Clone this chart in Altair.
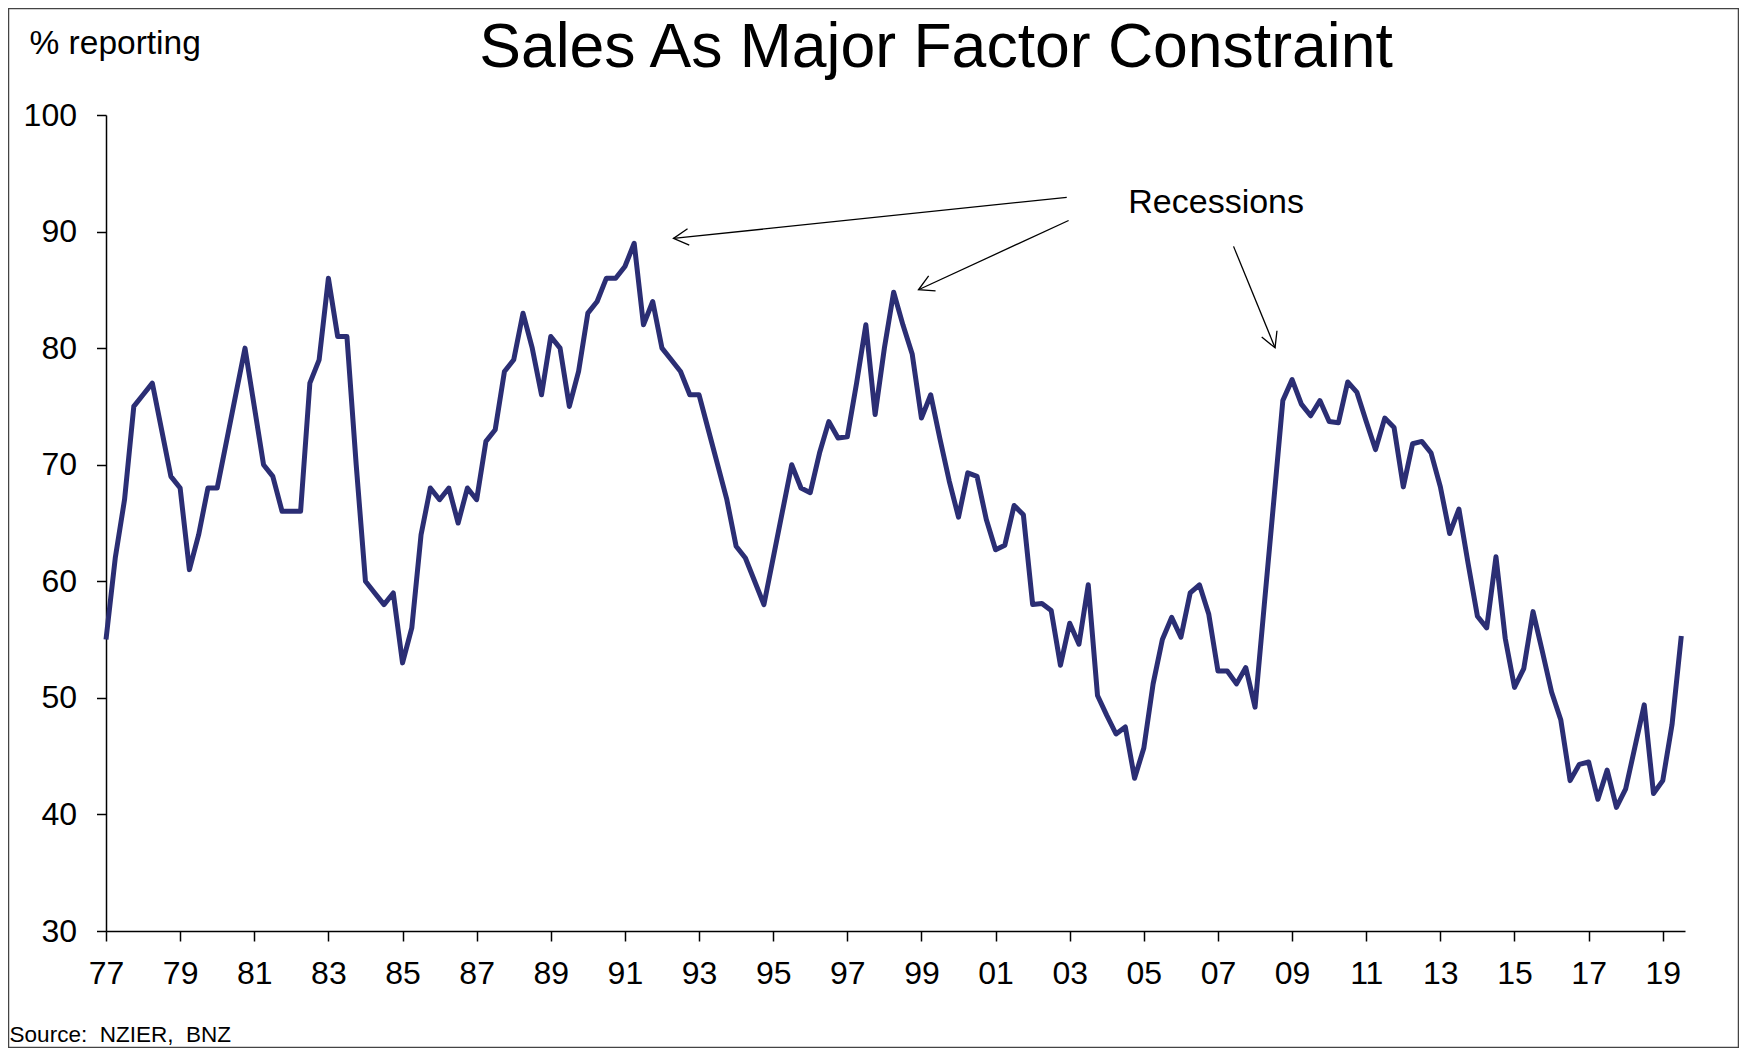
import altair as alt
import pandas as pd

# ---------------- data ----------------
start_year = 1977  # first quarter of the series (1977 Q1), quarterly observations
pct_1977_1986 = [55, 62, 67, 75, 76, 77, 73, 69, 68, 61, 64, 68, 68, 72, 76, 80,
                 75, 70, 69, 66, 66, 66, 77, 79, 86, 81, 81, 70, 60, 59, 58, 59,
                 53, 56, 64, 68, 67, 68, 65, 68]
pct_1987_1996 = [67, 72, 73, 78, 79, 83, 80, 76, 81, 80, 75, 78, 83, 84, 86, 86,
                 87, 89, 82, 84, 80, 79, 78, 76, 76, 73, 70, 67, 63, 62, 60, 58,
                 62, 66, 70, 68, 67.6, 71, 73.7, 72.3]
pct_1997_2006 = [72.4, 77, 82, 74.3, 80, 84.8, 82, 79.5, 74, 76, 72.2, 68.6,
                 65.5, 69.3, 69, 65.3, 62.7, 63.1, 66.5, 65.7, 58, 58.1, 57.5, 52.8,
                 56.4, 54.6, 59.7, 50.2, 48.5, 46.9, 47.5, 43.1, 45.7, 51.2, 55, 56.9,
                 55.2, 59, 59.7, 57.2]
pct_2007_2019 = [52.3, 52.3, 51.2, 52.6, 49.2, 58, 66.7, 75.5, 77.3, 75.2, 74.2, 75.5,
                 73.7, 73.6, 77.1, 76.2, 73.7, 71.3, 74, 73.2, 68.1, 71.8, 72, 71,
                 68.1, 64.1, 66.2, 61.5, 57, 56, 62.1, 55.1, 50.9, 52.5, 57.4, 54,
                 50.5, 48.1, 42.9, 44.3, 44.5, 41.3, 43.8, 40.6, 42.2, 45.8, 49.4, 41.8,
                 42.9, 47.7, 55.3]

year_ticks = list(range(1977, 2020, 2))
value_ticks = [30, 40, 50, 60, 70, 80, 90, 100]

title_text = "Sales As Major Factor Constraint"
y_title = "% reporting"
source_text = "Source:\u00a0 NZIER,\u00a0 BNZ"
annot_text = "Recessions"

# arrows: start (tail) and end (tip) in chart units
arrow_t = [2002.92, 2002.97, 2007.42]
arrow_v = [92.94, 90.95, 88.73]
arrow_t2 = [1992.31, 1998.92, 2008.54]
arrow_v2 = [89.41, 85.01, 80.03]
arrow_angle = [174.0, 155.2, 67.6]
annot_t = [2004.58]
annot_v = [91.57]

# ---------------- tables ----------------
values = pct_1977_1986 + pct_1987_1996 + pct_1997_2006 + pct_2007_2019
df = pd.DataFrame({"t": [start_year + i / 4 for i in range(len(values))], "v": values})
arrows = pd.DataFrame({"t": arrow_t, "v": arrow_v, "t2": arrow_t2, "v2": arrow_v2,
                       "ang": arrow_angle})
tips = pd.DataFrame({"t": arrow_t2, "v": arrow_v2, "ang": arrow_angle})
annot = pd.DataFrame({"t": annot_t, "v": annot_v, "label": [annot_text]})

W, H = 1579, 816
FONT = "Liberation Sans"
LINE_COLOR = "#2B2E74"

xscale = alt.Scale(domain=[1977, 2019.6], nice=False, zero=False)
yscale = alt.Scale(domain=[30, 100], nice=False, zero=False)

xaxis = alt.Axis(values=year_ticks, labelExpr="substring(toString(datum.value), 2)",
                 title=None, grid=False, tickSize=10, tickWidth=1.5, tickColor="black",
                 domainColor="black", domainWidth=1.5, labelFontSize=32, labelFont=FONT,
                 labelColor="black", labelPadding=17, labelOverlap=False, labelFlush=False)
yaxis = alt.Axis(values=value_ticks, title=y_title, titleAngle=0, titleX=-77, titleY=-61.5,
                 titleAlign="left", titleBaseline="alphabetic", titleFontSize=33.5,
                 titleFont=FONT, titleFontWeight="normal", titleColor="black",
                 grid=False, tickSize=9.5, tickWidth=1.5, tickColor="black",
                 domainColor="black", domainWidth=1.5, labelFontSize=32, labelFont=FONT,
                 labelColor="black", labelPadding=20, labelOverlap=False)

X = alt.X("t:Q", scale=xscale, axis=xaxis)
Y = alt.Y("v:Q", scale=yscale, axis=yaxis)

frame = alt.Chart(alt.Data(values=[{"f": 1}])).mark_rect(
    fillOpacity=0, stroke="#444444", strokeWidth=1.5
).encode(x=alt.value(-97.5), x2=alt.value(W + 53.5), y=alt.value(-106.5), y2=alt.value(H + 116.5))

line = alt.Chart(df).mark_line(color=LINE_COLOR, strokeWidth=5, strokeJoin="round").encode(x=X, y=Y)

shafts = alt.Chart(arrows).mark_rule(color="black", strokeWidth=1.3).encode(
    x=X, y=Y, x2="t2:Q", y2="v2:Q")

heads = alt.Chart(tips).mark_point(
    shape="M -1 -0.55 L 0 0 L -1 0.55", filled=False, size=900,
    stroke="black", strokeWidth=1.3, opacity=1
).encode(x=X, y=Y, angle=alt.Angle("ang:Q", scale=None))

recess = alt.Chart(annot).mark_text(
    align="left", baseline="alphabetic", fontSize=34, font=FONT, color="black"
).encode(x=X, y=Y, text="label:N")

title = alt.Chart(alt.Data(values=[{"label": title_text}])).mark_text(
    align="center", baseline="alphabetic", fontSize=62.5, font=FONT, color="black"
).encode(x=alt.value(830), y=alt.value(-48.3), text="label:N")

source = alt.Chart(alt.Data(values=[{"label": source_text}])).mark_text(
    align="left", baseline="alphabetic", fontSize=22.5, font=FONT, color="black"
).encode(x=alt.value(-96.4), y=alt.value(926.7), text="label:N")

chart = alt.layer(frame, line, shafts, heads, recess, title, source).properties(
    width=W, height=H,
    autosize=alt.AutoSizeParams(type="none"),
    padding={"left": 98, "top": 107, "right": 54, "bottom": 117},
    background="white",
).configure_view(strokeWidth=0)

chart.save("out.html", embed_options={"renderer": "svg", "actions": False})
